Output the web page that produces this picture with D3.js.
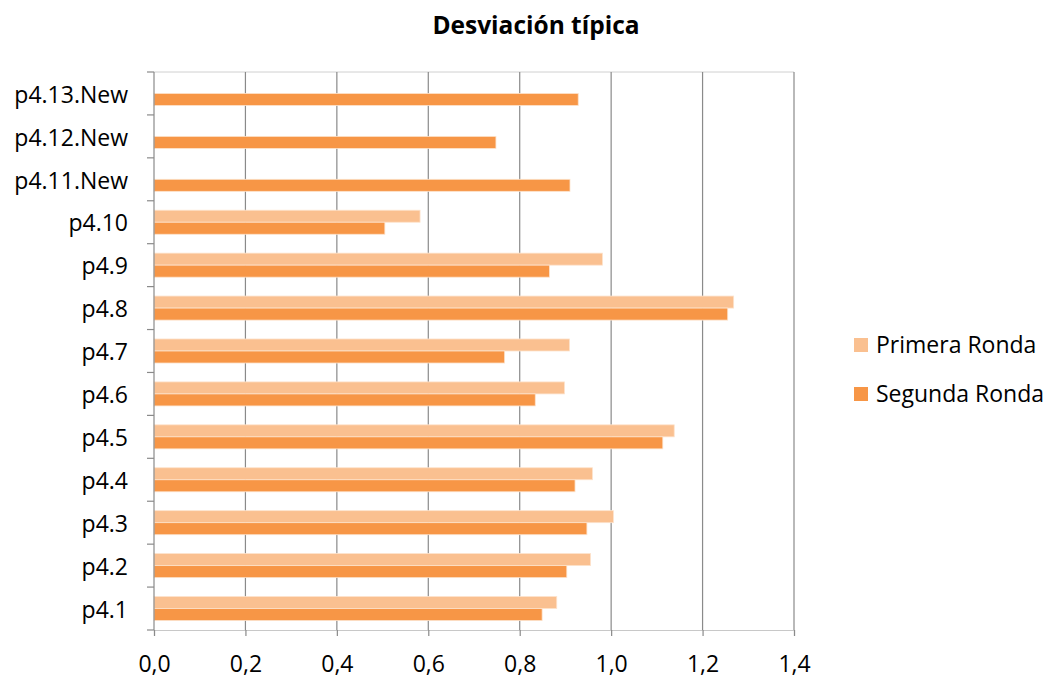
<!DOCTYPE html>
<html><head><meta charset="utf-8">
<script src="https://cdn.jsdelivr.net/npm/d3@7"></script>
<style>body{margin:0;background:#fff;} text{font-family:"Open Sans",sans-serif;fill:#000;}</style>
</head><body>
<svg id="c" width="1049" height="684"></svg>
<script>
const categories = ["p4.1","p4.2","p4.3","p4.4","p4.5","p4.6","p4.7","p4.8","p4.9","p4.10","p4.11.New","p4.12.New","p4.13.New"];
const seriesNames = ["Primera Ronda","Segunda Ronda"];
const primera = [0.881,0.955,1.005,0.959,1.138,0.898,0.909,1.268,0.981,0.582,null,null,null];
const segunda = [0.849,0.903,0.947,0.921,1.113,0.834,0.767,1.255,0.865,0.505,0.910,0.748,0.928];
const xTicks = [0,0.2,0.4,0.6,0.8,1.0,1.2,1.4];
const colors = ["#FAC090","#F79646"];

const svg = d3.select("#c");
const L=154, R=794, T=72, B=630;
const FS = 23;
const x = d3.scaleLinear().domain([0,1.4]).range([L,R]);
const y = d3.scaleBand().domain(categories.slice().reverse()).range([T,B]).paddingInner(0.44).paddingOuter(0.22);
const ySub = d3.scaleBand().domain(seriesNames).range([0,y.bandwidth()]);
const step = y.step();

// top border
svg.append("line").attr("x1",L).attr("x2",R).attr("y1",T).attr("y2",T).attr("stroke","#d0d0d0").attr("stroke-width",1);
// gridlines
svg.append("g").selectAll("line").data(xTicks.slice(1)).join("line")
  .attr("x1",d=>x(d)).attr("x2",d=>x(d)).attr("y1",T).attr("y2",B)
  .attr("stroke","#8a8a8a").attr("stroke-width",1.2);

// bars
const data = [];
categories.forEach((c,i)=>{
  [primera[i],segunda[i]].forEach((v,j)=>{ if(v!=null) data.push({c,s:seriesNames[j],v,j}); });
});
svg.append("g").selectAll("rect").data(data).join("rect")
  .attr("x",x(0)).attr("y",d=>y(d.c)+ySub(d.s))
  .attr("width",d=>x(d.v)-x(0)).attr("height",ySub.bandwidth())
  .attr("fill",d=>colors[d.j]).attr("stroke","#fde3cc").attr("stroke-width",0.8);

// x axis
const xa = svg.append("g").attr("transform",`translate(0,${B})`)
  .call(d3.axisBottom(x).tickValues(xTicks).tickSize(6).tickPadding(20).tickFormat(d=>d3.format(".1f")(d).replace(".",",")));
xa.select(".domain").attr("stroke","#c8c8c8").attr("stroke-width",1.2);
xa.selectAll(".tick line").attr("stroke","#8a8a8a").attr("stroke-width",1.2);
xa.selectAll(".tick text").attr("font-family","'Open Sans',sans-serif").attr("font-size",FS).attr("fill","#000");

// y axis line + ticks at boundaries
svg.append("line").attr("x1",L).attr("x2",L).attr("y1",T).attr("y2",B).attr("stroke","#8a8a8a").attr("stroke-width",1.2);
const bounds = d3.range(categories.length+1).map(i=>T+i*step);
svg.append("g").selectAll("line").data(bounds).join("line")
  .attr("x1",L-7).attr("x2",L).attr("y1",d=>d).attr("y2",d=>d).attr("stroke","#8a8a8a").attr("stroke-width",1.2);
svg.append("g").selectAll("text").data(categories).join("text")
  .attr("x",128).attr("y",d=>y(d)+y.bandwidth()/2).attr("dy","0.4em")
  .attr("text-anchor","end").attr("font-size",FS).text(d=>d);

// title
svg.append("text").attr("x",536).attr("y",34).attr("text-anchor","middle")
  .attr("font-size",24.5).attr("font-weight","bold").text("Desviación típica");

// legend
const lg = svg.append("g").selectAll("g").data(seriesNames).join("g")
  .attr("transform",(d,i)=>`translate(854,${338+i*49})`);
lg.append("rect").attr("width",14).attr("height",14).attr("fill",(d,i)=>colors[i]);
lg.append("text").attr("x",22).attr("y",15).attr("font-size",FS).text(d=>d);
</script>
</body></html>
